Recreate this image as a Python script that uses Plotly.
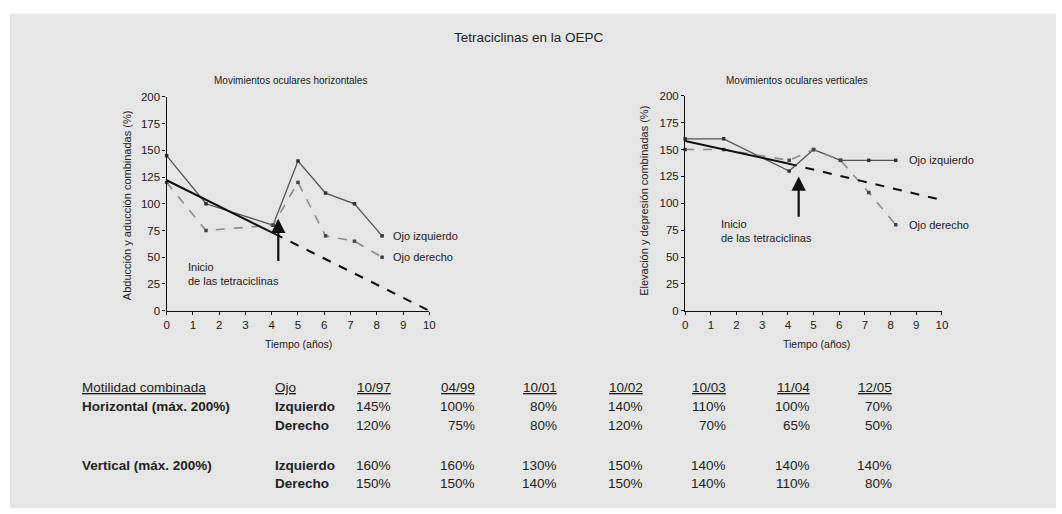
import plotly.graph_objects as go

# ---------------- data ----------------
dates = ["10/97", "04/99", "10/01", "10/02", "10/03", "11/04", "12/05"]
years = [0, 1.5, 4.05, 5, 6.05, 7.15, 8.2]          # time since start (years)
h_izq = [145, 100, 80, 140, 110, 100, 70]           # horizontal, left eye (%)
h_der = [120, 75, 80, 120, 70, 65, 50]              # horizontal, right eye (%)
v_izq = [160, 160, 130, 150, 140, 140, 140]         # vertical, left eye (%)
v_der = [150, 150, 140, 150, 140, 110, 80]          # vertical, right eye (%)

trend_h_x = [0, 4.1, 10]
trend_h_y = [122, 72, 0]
trend_v_x = [0, 4.0, 10]
trend_v_y = [158, 137, 103]

x_ticks = list(range(0, 11))
y_ticks = [0, 25, 50, 75, 100, 125, 150, 175, 200]

# ---------------- layout helpers (pixel -> paper) ----------------
W, H = 1062, 514


def px(x):
    return x / W


def py(y):
    return 1 - y / H


FONT = "Liberation Sans, Arial, sans-serif"
TXT = "#222222"
BG = "#e6e6e6"

fig = go.Figure()


def add_panel(xr, yr, izq, der, tx, ty):
    fig.add_trace(go.Scatter(x=years, y=izq, xaxis=xr, yaxis=yr, mode="lines+markers",
                             line=dict(color="#555555", width=1.3),
                             marker=dict(size=3.5, color="#333333", symbol="square"),
                             showlegend=False, cliponaxis=False))
    fig.add_trace(go.Scatter(x=years, y=der, xaxis=xr, yaxis=yr, mode="lines+markers",
                             line=dict(color="#8c8c8c", width=1.6, dash="dash"),
                             marker=dict(size=3.5, color="#444444", symbol="square"),
                             showlegend=False, cliponaxis=False))
    fig.add_trace(go.Scatter(x=tx[:2], y=ty[:2], xaxis=xr, yaxis=yr, mode="lines",
                             line=dict(color="#111111", width=2),
                             showlegend=False, cliponaxis=False))
    fig.add_trace(go.Scatter(x=tx[1:], y=ty[1:], xaxis=xr, yaxis=yr, mode="lines",
                             line=dict(color="#111111", width=2, dash="dash"),
                             showlegend=False, cliponaxis=False))


add_panel("x", "y", h_izq, h_der, trend_h_x, trend_h_y)
add_panel("x2", "y2", v_izq, v_der, trend_v_x, trend_v_y)

axis_common = dict(showgrid=False, zeroline=False, showline=True, linecolor="#111111",
                   linewidth=1.3, ticks="outside", ticklen=3, tickcolor="#111111",
                   tickfont=dict(family=FONT, size=11.5, color="#1a1a1a"))

fig.update_layout(
    width=W, height=H,
    margin=dict(l=0, r=0, t=0, b=0),
    paper_bgcolor="white", plot_bgcolor=BG,
    xaxis=dict(domain=[px(165), px(430)], range=[0, 10], tickvals=x_ticks,
               anchor="y", **axis_common),
    yaxis=dict(domain=[py(312), py(93)], range=[0, 200], tickvals=y_ticks,
               anchor="x", **axis_common),
    xaxis2=dict(domain=[px(688), px(947)], range=[0, 10], tickvals=x_ticks,
                anchor="y2", **axis_common),
    yaxis2=dict(domain=[py(312), py(92)], range=[0, 200], tickvals=y_ticks,
                anchor="x2", **axis_common),
    shapes=[dict(type="rect", xref="paper", yref="paper", layer="below",
                 x0=px(7), x1=1, y0=0, y1=py(8),
                 fillcolor=BG, line=dict(width=0))],
)

ann = []


def ptext(x, y, text, size, xanchor="center", yanchor="middle", textangle=0):
    ann.append(dict(x=px(x), y=py(y), xref="paper", yref="paper", text=text,
                    showarrow=False, xanchor=xanchor, yanchor=yanchor,
                    textangle=textangle, align="left",
                    font=dict(family=FONT, size=size, color=TXT)))


def dtext(xr, yr, x, y, text, size=11, xanchor="left", yanchor="middle"):
    ann.append(dict(x=x, y=y, xref=xr, yref=yr, text=text, showarrow=False,
                    xanchor=xanchor, yanchor=yanchor, align="left",
                    font=dict(family=FONT, size=size, color=TXT)))


def arrow(xr, yr, x, y0, y1):
    ann.append(dict(x=x, y=y1, ax=x, ay=y0, xref=xr, yref=yr, axref=xr, ayref=yr,
                    text="", showarrow=True, arrowhead=2, arrowsize=1.3,
                    arrowwidth=2.2, arrowcolor="#111111"))


# titles
ptext(530, 32, "Tetraciclinas en la OEPC", 13.5)
ptext(290, 76, "Movimientos oculares horizontales", 10)
ptext(801, 76, "Movimientos oculares verticales", 10)
ptext(298, 346, "Tiempo (años)", 10.5)
ptext(820, 346, "Tiempo (años)", 10.5)
ptext(125, 204, "Abducción y aducción combinadas (%)", 11, textangle=-90)
ptext(647, 200, "Elevación y depresión combinadas (%)", 11, textangle=-90)

# in-chart labels
dtext("x", "y", 8.55, 70, "Ojo izquierdo")
dtext("x", "y", 8.55, 50, "Ojo derecho")
dtext("x", "y", 0.75, 34, "Inicio<br>de las tetraciclinas")
arrow("x", "y", 4.25, 45, 86)
dtext("x2", "y2", 8.65, 140, "Ojo izquierdo")
dtext("x2", "y2", 8.65, 80, "Ojo derecho")
dtext("x2", "y2", 1.3, 74, "Inicio<br>de las tetraciclinas")
arrow("x2", "y2", 4.42, 86, 125)

# ---------------- table ----------------
TS = 13.5
col_right = [393, 478, 561, 647, 731, 816, 899]
row_y = {"head": 391, "hi": 410, "hd": 430, "vi": 470, "vd": 489}

ptext(78, row_y["head"], "<u>Motilidad combinada</u>", TS, xanchor="left")
ptext(78, row_y["hi"], "<b>Horizontal (máx. 200%)</b>", TS, xanchor="left")
ptext(78, row_y["vi"], "<b>Vertical (máx. 200%)</b>", TS, xanchor="left")
ptext(272, row_y["head"], "<u>Ojo</u>", TS, xanchor="left")
for key in ["hi", "vi"]:
    ptext(272, row_y[key], "<b>Izquierdo</b>", TS, xanchor="left")
for key in ["hd", "vd"]:
    ptext(272, row_y[key], "<b>Derecho</b>", TS, xanchor="left")

for i, d in enumerate(dates):
    xr = col_right[i]
    ptext(xr, row_y["head"], f"<u>{d}</u>", TS, xanchor="right")
    ptext(xr, row_y["hi"], f"{h_izq[i]}%", TS, xanchor="right")
    ptext(xr, row_y["hd"], f"{h_der[i]}%", TS, xanchor="right")
    ptext(xr, row_y["vi"], f"{v_izq[i]}%", TS, xanchor="right")
    ptext(xr, row_y["vd"], f"{v_der[i]}%", TS, xanchor="right")

fig.update_layout(annotations=ann)

fig.write_html("out.html",
               config={"displayModeBar": False},
               post_script="document.body.style.margin='0';document.body.style.overflow='hidden';")
